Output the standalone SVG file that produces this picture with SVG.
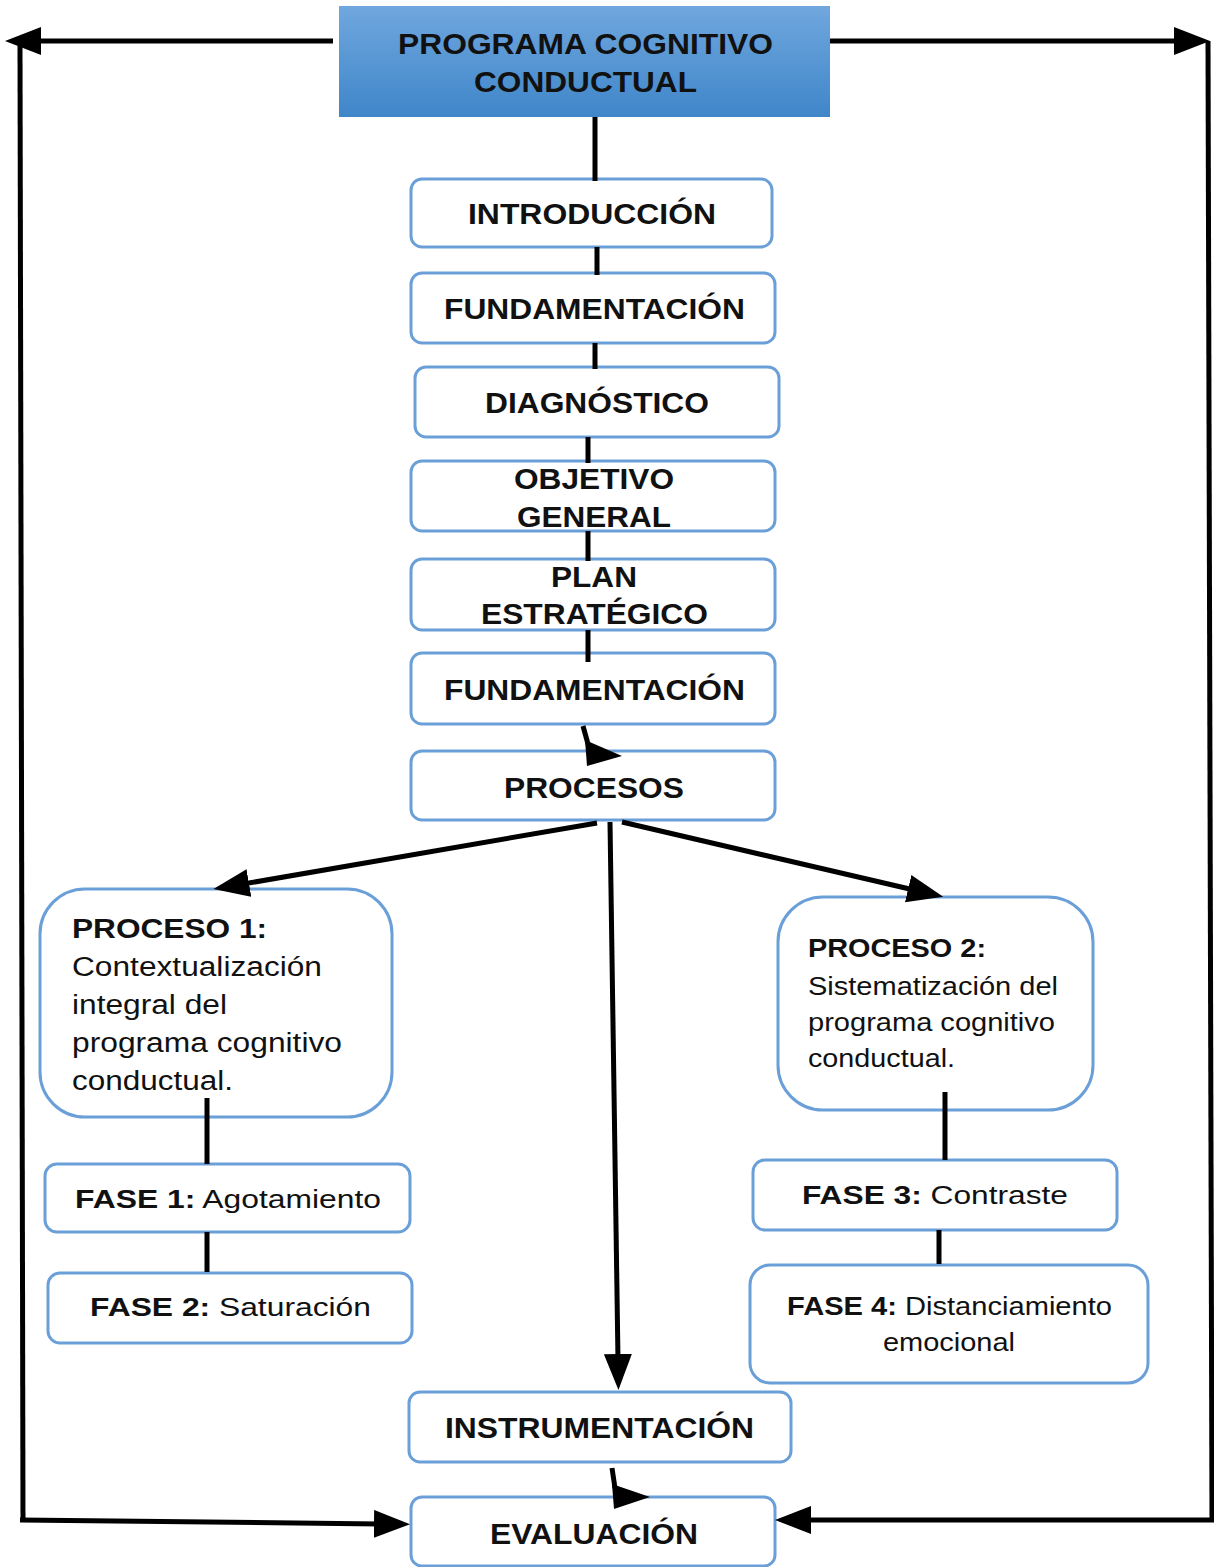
<svg xmlns="http://www.w3.org/2000/svg" width="1214" height="1567" viewBox="0 0 1214 1567">
<style>
.box{fill:#ffffff;stroke:#6a9fd8;stroke-width:3}
.t{font-family:"Liberation Sans",Arial,sans-serif;fill:#111;}
.b{font-weight:bold}
.c{text-anchor:middle}
.ln{stroke:#000;stroke-width:5;fill:none}
.ah{fill:#000}
</style>
<defs>
<linearGradient id="g" x1="0" y1="0" x2="0" y2="1">
<stop offset="0" stop-color="#70a7de"/>
<stop offset="1" stop-color="#3f86c9"/>
</linearGradient>
<marker id="arr" markerUnits="userSpaceOnUse" markerWidth="38" markerHeight="30" refX="6" refY="14" orient="auto">
<path d="M0,0 L36,14 L0,28 Z" fill="#000"/>
</marker>
</defs>
<g id="n-programa">
<rect x="339" y="6" width="491" height="111" fill="url(#g)"/>
<text class="t b c" x="585.5" y="54" font-size="30" textLength="375" lengthAdjust="spacingAndGlyphs">PROGRAMA COGNITIVO</text>
<text class="t b c" x="585.5" y="92" font-size="30" textLength="223" lengthAdjust="spacingAndGlyphs">CONDUCTUAL</text>
</g>
<g id="n-introduccion">
<rect class="box" x="411" y="179" width="361" height="68" rx="11"/>
<text class="t b c" x="592" y="223.5" font-size="29" textLength="248" lengthAdjust="spacingAndGlyphs">INTRODUCCIÓN</text>
</g>
<g id="n-fundamentacion1">
<rect class="box" x="411" y="273" width="364" height="70" rx="11"/>
<text class="t b c" x="594.5" y="318.5" font-size="29" textLength="301" lengthAdjust="spacingAndGlyphs">FUNDAMENTACIÓN</text>
</g>
<g id="n-diagnostico">
<rect class="box" x="415" y="367" width="364" height="70" rx="11"/>
<text class="t b c" x="597" y="412.5" font-size="29" textLength="224" lengthAdjust="spacingAndGlyphs">DIAGNÓSTICO</text>
</g>
<g id="n-objetivo">
<rect class="box" x="411" y="461" width="364" height="70" rx="11"/>
<text class="t b c" x="594" y="488.5" font-size="29" textLength="160" lengthAdjust="spacingAndGlyphs">OBJETIVO</text>
<text class="t b c" x="594" y="526.5" font-size="29" textLength="154" lengthAdjust="spacingAndGlyphs">GENERAL</text>
</g>
<g id="n-plan">
<rect class="box" x="411" y="559" width="364" height="71" rx="11"/>
<text class="t b c" x="594" y="586.5" font-size="29" textLength="86" lengthAdjust="spacingAndGlyphs">PLAN</text>
<text class="t b c" x="594.5" y="623.5" font-size="29" textLength="227" lengthAdjust="spacingAndGlyphs">ESTRATÉGICO</text>
</g>
<g id="n-fundamentacion2">
<rect class="box" x="411" y="653" width="364" height="71" rx="11"/>
<text class="t b c" x="594.5" y="699.5" font-size="29" textLength="301" lengthAdjust="spacingAndGlyphs">FUNDAMENTACIÓN</text>
</g>
<g id="n-procesos">
<rect class="box" x="411" y="751" width="364" height="69" rx="11"/>
<text class="t b c" x="594" y="797.5" font-size="29" textLength="180" lengthAdjust="spacingAndGlyphs">PROCESOS</text>
</g>
<g id="n-proceso1">
<rect class="box" x="40" y="889" width="352" height="228" rx="45"/>
<text class="t b" x="72" y="937.5" font-size="27" textLength="195" lengthAdjust="spacingAndGlyphs">PROCESO 1:</text>
<text class="t" x="72" y="975.5" font-size="27" textLength="250" lengthAdjust="spacingAndGlyphs">Contextualización</text>
<text class="t" x="72" y="1013.5" font-size="27" textLength="155" lengthAdjust="spacingAndGlyphs">integral del</text>
<text class="t" x="72" y="1051.5" font-size="27" textLength="270" lengthAdjust="spacingAndGlyphs">programa cognitivo</text>
<text class="t" x="72" y="1089.5" font-size="27" textLength="161" lengthAdjust="spacingAndGlyphs">conductual.</text>
</g>
<g id="n-proceso2">
<rect class="box" x="778" y="897" width="315" height="213" rx="45"/>
<text class="t b" x="808" y="957" font-size="26" textLength="178" lengthAdjust="spacingAndGlyphs">PROCESO 2:</text>
<text class="t" x="808" y="995" font-size="26" textLength="250" lengthAdjust="spacingAndGlyphs">Sistematización del</text>
<text class="t" x="808" y="1031" font-size="26" textLength="247" lengthAdjust="spacingAndGlyphs">programa cognitivo</text>
<text class="t" x="808" y="1067" font-size="26" textLength="147" lengthAdjust="spacingAndGlyphs">conductual.</text>
</g>
<g id="n-fase1">
<rect class="box" x="45" y="1164" width="365" height="68" rx="12"/>
<text class="t c" x="228" y="1208" font-size="26" textLength="306" lengthAdjust="spacingAndGlyphs"><tspan class="b">FASE 1:</tspan> Agotamiento</text>
</g>
<g id="n-fase2">
<rect class="box" x="48" y="1273" width="364" height="70" rx="12"/>
<text class="t c" x="230.5" y="1316" font-size="26" textLength="281" lengthAdjust="spacingAndGlyphs"><tspan class="b">FASE 2:</tspan> Saturación</text>
</g>
<g id="n-fase3">
<rect class="box" x="753" y="1160" width="364" height="70" rx="12"/>
<text class="t c" x="935" y="1204" font-size="26" textLength="266" lengthAdjust="spacingAndGlyphs"><tspan class="b">FASE 3:</tspan> Contraste</text>
</g>
<g id="n-fase4">
<rect class="box" x="750" y="1265" width="398" height="118" rx="20"/>
<text class="t c" x="949.5" y="1315" font-size="26" textLength="325" lengthAdjust="spacingAndGlyphs"><tspan class="b">FASE 4:</tspan> Distanciamiento</text>
<text class="t c" x="949" y="1351" font-size="26" textLength="132" lengthAdjust="spacingAndGlyphs">emocional</text>
</g>
<g id="n-instrumentacion">
<rect class="box" x="409" y="1392" width="382" height="70" rx="11"/>
<text class="t b c" x="599.5" y="1437.5" font-size="29" textLength="309" lengthAdjust="spacingAndGlyphs">INSTRUMENTACIÓN</text>
</g>
<g id="n-evaluacion">
<rect class="box" x="411" y="1497" width="364" height="69" rx="11"/>
<text class="t b c" x="594" y="1543.5" font-size="29" textLength="208" lengthAdjust="spacingAndGlyphs">EVALUACIÓN</text>
</g>
<g id="connectors">
<line class="ln" x1="333" y1="41" x2="35" y2="41" marker-end="url(#arr)"/>
<line class="ln" x1="20" y1="46" x2="23" y2="1521"/>
<line class="ln" x1="20" y1="1520" x2="380" y2="1524" marker-end="url(#arr)"/>
<line class="ln" x1="830" y1="41" x2="1180" y2="41" marker-end="url(#arr)"/>
<line class="ln" x1="1208" y1="41" x2="1212" y2="1522"/>
<line class="ln" x1="1214" y1="1520" x2="805" y2="1520" marker-end="url(#arr)"/>
<line class="ln" x1="595" y1="117" x2="595" y2="181"/>
<line class="ln" x1="597" y1="247" x2="597" y2="275"/>
<line class="ln" x1="595" y1="343" x2="595" y2="369"/>
<line class="ln" x1="588" y1="437" x2="588" y2="463"/>
<line class="ln" x1="588" y1="531" x2="588" y2="561"/>
<line class="ln" x1="588" y1="630" x2="588" y2="662"/>
<line class="ln" x1="583" y1="726" x2="588" y2="744"/>
<polygon class="ah" points="585,740 622,756 587,766"/>
<line class="ln" x1="597" y1="823" x2="243" y2="884" marker-end="url(#arr)"/>
<line class="ln" x1="622" y1="822" x2="914" y2="890" marker-end="url(#arr)"/>
<line class="ln" x1="610" y1="822" x2="618" y2="1360" marker-end="url(#arr)"/>
<line class="ln" x1="207" y1="1098" x2="207" y2="1164"/>
<line class="ln" x1="207" y1="1232" x2="207" y2="1272"/>
<line class="ln" x1="945" y1="1092" x2="945" y2="1160"/>
<line class="ln" x1="939" y1="1230" x2="939" y2="1264"/>
<line class="ln" x1="612" y1="1468" x2="615" y2="1488"/>
<polygon class="ah" points="612,1484 650,1497 614,1509"/>
</g>
</svg>
